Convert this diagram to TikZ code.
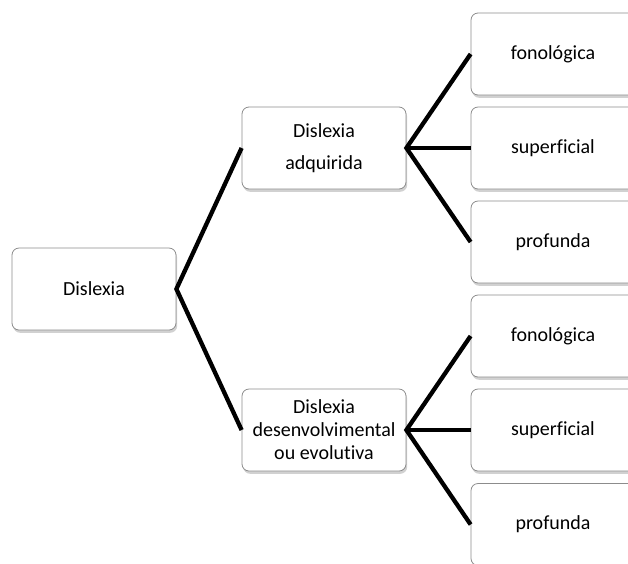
\documentclass[tikz,border=0pt]{standalone}
\usepackage{fontspec}
\setmainfont{Carlito}[Ligatures=NoCommon]
\usetikzlibrary{shadows}
\tikzset{
  box/.style={draw=black!45, line width=0.8pt, fill=white, rounded corners=7pt,
    minimum width=164pt, minimum height=82pt, inner sep=0pt, align=center,
    font=\fontsize{20}{23}\selectfont,
    drop shadow={shadow xshift=1.2pt, shadow yshift=-2.8pt, opacity=0.3, fill=black!60}},
  link/.style={line width=4.3pt, black}
}
\begin{document}
\begin{tikzpicture}[x=1pt,y=-1pt]
\useasboundingbox (0,0) rectangle (628,563);
\clip (0,0) rectangle (628,563);
\node[box] (root) at (94,289) {Dislexia};
\node[box, font=\fontsize{20}{32}\selectfont] (acq) at (324,148) {Dislexia\\adquirida};
\node[box] (dev) at (324,430) {Dislexia\\desenvolvimental\\ou evolutiva};
\node[box] (a1) at (553,54) {fonológica};
\node[box] (a2) at (553,148) {superficial};
\node[box] (a3) at (553,242) {profunda};
\node[box] (d1) at (553,336) {fonológica};
\node[box] (d2) at (553,430) {superficial};
\node[box] (d3) at (553,524.5) {profunda};
\draw[link] (acq.west) -- (root.east) -- (dev.west);
\draw[link] (a1.west) -- (acq.east) -- (a3.west);
\draw[link] (acq.east) -- (a2.west);
\draw[link] (d1.west) -- (dev.east) -- (d3.west);
\draw[link] (dev.east) -- (d2.west);
\end{tikzpicture}
\end{document}
